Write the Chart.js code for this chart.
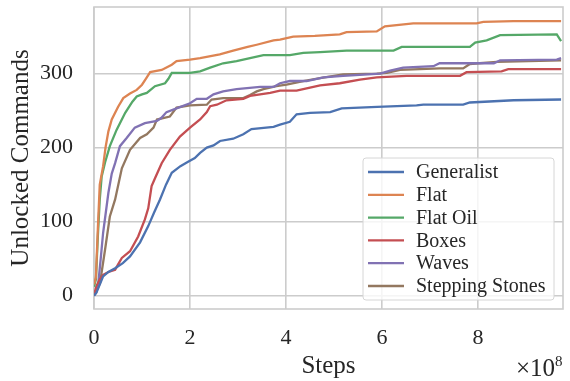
<!DOCTYPE html>
<html>
<head>
<meta charset="utf-8">
<title>Unlocked Commands</title>
<script src="https://cdn.jsdelivr.net/npm/chart.js"></script>
<style>
  html, body { margin: 0; padding: 0; background: #fff; }
  #wrap { width: 570px; height: 381px; }
</style>
</head>
<body>
<div id="wrap"><canvas id="chart" width="570" height="381"></canvas></div>
<script>
// steps are in units of 1e8
const seriesNames = ['Generalist', 'Flat', 'Flat Oil', 'Boxes', 'Waves', 'Stepping Stones'];
const seriesColors = ['#4C72B0', '#DD8452', '#55A868', '#C44E52', '#8172B3', '#937860'];

const generalistSteps = [0, 0.05, 0.12, 0.19, 0.3, 0.44, 0.6, 0.75, 0.96, 1.13, 1.25, 1.375, 1.5, 1.62, 1.8, 1.96, 2.1, 2.21, 2.35, 2.49, 2.625, 2.9, 3.11, 3.28, 3.74, 3.875, 4.08, 4.22, 4.5, 4.92, 5.16, 5.9, 6.72, 6.86, 7.69, 7.83, 8.74, 9.73];
const generalist = [0, 4, 15, 26, 32, 37, 44, 53, 72, 94, 112, 130, 150, 166, 175, 181, 186, 193, 200, 203, 209, 212, 218, 225, 228, 231, 235, 245, 247, 248, 253, 255, 257, 258, 258, 261, 264, 265];

const flatSteps = [0, 0.04, 0.08, 0.12, 0.19, 0.24, 0.3, 0.37, 0.5, 0.61, 0.75, 0.89, 1.0, 1.1, 1.17, 1.41, 1.5, 1.62, 1.72, 2.0, 2.21, 2.62, 2.9, 3.2, 3.39, 3.74, 3.875, 4.15, 4.6, 5.12, 5.26, 5.89, 6.06, 6.65, 7.97, 8.11, 8.74, 9.73];
const flat = [15, 25, 90, 150, 175, 200, 222, 238, 255, 267, 273, 278, 285, 295, 302, 305, 308, 312, 317, 319, 321, 326, 331, 336, 339, 345, 346, 350, 351, 353, 356, 357, 364, 368, 368, 370, 371, 371];

const flatOilSteps = [0, 0.04, 0.08, 0.12, 0.16, 0.23, 0.33, 0.47, 0.65, 0.8, 0.89, 1.0, 1.1, 1.27, 1.48, 1.55, 1.62, 2.0, 2.21, 2.42, 2.69, 2.97, 3.25, 3.53, 4.08, 4.36, 4.71, 5.26, 6.24, 6.41, 7.83, 7.94, 8.18, 8.46, 9.64, 9.73];
const flatOil = [12, 22, 80, 130, 161, 180, 202, 224, 247, 262, 269, 272, 274, 283, 287, 293, 301, 301, 303, 308, 314, 317, 321, 325, 325, 328, 329, 331, 331, 336, 336, 342, 345, 352, 353, 344];

const boxesSteps = [0, 0.05, 0.12, 0.19, 0.3, 0.44, 0.5, 0.58, 0.75, 0.92, 1.06, 1.13, 1.2, 1.28, 1.41, 1.58, 1.79, 2.0, 2.21, 2.35, 2.42, 2.56, 2.76, 3.11, 3.25, 3.67, 3.875, 4.22, 4.5, 4.71, 5.12, 5.54, 5.89, 6.51, 7.625, 7.76, 8.49, 8.63, 9.73];
const boxes = [0, 13, 22, 28, 32, 35, 42, 51, 60, 80, 103, 118, 148, 160, 179, 197, 215, 227, 238, 248, 256, 258, 264, 266, 270, 274, 277, 277, 281, 284, 287, 292, 295, 297, 297, 302, 303, 306, 306];

const wavesSteps = [0, 0.05, 0.09, 0.14, 0.19, 0.3, 0.37, 0.44, 0.54, 0.68, 0.85, 1.06, 1.31, 1.4, 1.51, 1.76, 2.0, 2.14, 2.35, 2.49, 2.69, 2.97, 3.46, 3.74, 3.875, 4.08, 4.43, 4.78, 5.19, 5.96, 6.17, 6.44, 7.07, 7.2, 8.33, 8.46, 9.64, 9.73];
const waves = [0, 5, 17, 50, 85, 139, 165, 179, 202, 213, 227, 233, 236, 240, 248, 254, 260, 266, 266, 272, 276, 279, 282, 282, 287, 290, 290, 295, 297, 300, 304, 308, 310, 314, 314, 318, 319, 321];

const steppingSteps = [0, 0.06, 0.125, 0.23, 0.33, 0.44, 0.58, 0.75, 0.96, 1.1, 1.24, 1.31, 1.58, 1.72, 2.0, 2.35, 2.45, 2.69, 3.11, 3.25, 3.39, 3.53, 3.8, 4.01, 4.36, 4.71, 5.19, 5.89, 6.1, 6.375, 7.2, 7.69, 7.83, 8.39, 9.73];
const stepping = [5, 8, 17, 62, 107, 130, 172, 197, 213, 218, 227, 238, 242, 254, 257, 258, 265, 267, 267, 271, 276, 279, 283, 285, 290, 294, 299, 300, 301, 305, 307, 307, 313, 316, 318];

const xTicks = [0, 2, 4, 6, 8];
const yTicks = [0, 100, 200, 300];

const stepsList = [generalistSteps, flatSteps, flatOilSteps, boxesSteps, wavesSteps, steppingSteps];
const valuesList = [generalist, flat, flatOil, boxes, waves, stepping];

const serif = '"Liberation Serif", "DejaVu Serif", serif';
const gridColor = '#cccccc';

const datasets = seriesNames.map((name, i) => ({
    label: name,
    data: stepsList[i].map((s, j) => ({ x: s, y: valuesList[i][j] })),
    borderColor: seriesColors[i],
    backgroundColor: seriesColors[i],
    borderWidth: 2.3,
    pointRadius: 0,
    tension: 0,
    fill: false
}));

// frame around the plot area (seaborn style spines)
const framePlugin = {
    id: 'frame',
    beforeDatasetsDraw(chart) {
        const { ctx, chartArea: a } = chart;
        ctx.save();
        ctx.strokeStyle = gridColor;
        ctx.lineWidth = 1.6;
        ctx.strokeRect(a.left, a.top, a.right - a.left, a.bottom - a.top);
        ctx.restore();
    }
};

// legend box in lower right, drawn inside the axes
const legendPlugin = {
    id: 'boxLegend',
    afterDatasetsDraw(chart) {
        const { ctx, chartArea: a } = chart;
        const w = 191, h = 142;
        const x0 = a.right - 9 - w, y0 = a.bottom - 9 - h;
        ctx.save();
        ctx.beginPath();
        ctx.roundRect(x0, y0, w, h, 3);
        ctx.fillStyle = 'rgba(255,255,255,0.8)';
        ctx.fill();
        ctx.strokeStyle = '#d6d6d6';
        ctx.lineWidth = 1;
        ctx.stroke();
        ctx.font = '20px ' + serif;
        ctx.textBaseline = 'middle';
        ctx.fillStyle = '#262626';
        chart.data.datasets.forEach((ds, i) => {
            const y = y0 + 14 + i * 22.8;
            ctx.strokeStyle = ds.borderColor;
            ctx.lineWidth = 2.3;
            ctx.beginPath();
            ctx.moveTo(x0 + 5, y);
            ctx.lineTo(x0 + 41, y);
            ctx.stroke();
            ctx.fillText(ds.label, x0 + 53, y + 1);
        });
        ctx.restore();
    }
};

// offset text for the x axis
const offsetPlugin = {
    id: 'offsetText',
    afterDraw(chart) {
        const { ctx, chartArea: a } = chart;
        ctx.save();
        ctx.fillStyle = '#262626';
        ctx.textBaseline = 'alphabetic';
        ctx.textAlign = 'right';
        ctx.font = '25px ' + serif;
        ctx.fillText('\u00d710', a.right - 8, 376);
        ctx.textAlign = 'left';
        ctx.font = '15px ' + serif;
        ctx.fillText('8', a.right - 8, 366);
        ctx.restore();
    }
};

new Chart(document.getElementById('chart'), {
    type: 'line',
    data: { datasets },
    options: {
        responsive: false,
        animation: false,
        layout: { padding: { top: 7, right: 7, left: 0, bottom: 0 } },
        plugins: {
            legend: { display: false },
            tooltip: { enabled: false }
        },
        scales: {
            x: {
                type: 'linear',
                min: 0,
                max: 9.77,
                afterBuildTicks: s => { s.ticks = xTicks.map(v => ({ value: v })); },
                afterFit: s => { s.height = 72; s.paddingLeft = 0; s.paddingRight = 0; },
                grid: { color: gridColor, lineWidth: 1.6, drawTicks: false },
                border: { display: false },
                ticks: {
                    padding: 16,
                    color: '#262626',
                    font: { family: serif, size: 22 },
                    callback: v => String(v)
                },
                title: {
                    display: true,
                    text: 'Steps',
                    color: '#262626',
                    font: { family: serif, size: 25 },
                    padding: { top: 0, bottom: 0 }
                }
            },
            y: {
                type: 'linear',
                min: -18,
                max: 390,
                afterBuildTicks: s => { s.ticks = yTicks.map(v => ({ value: v })); },
                afterFit: s => { s.width = 94; s.paddingTop = 0; s.paddingBottom = 0; },
                grid: { color: gridColor, lineWidth: 1.6, drawTicks: false },
                border: { display: false },
                ticks: {
                    padding: 21,
                    color: '#262626',
                    font: { family: serif, size: 22 },
                    callback: v => String(v)
                },
                title: {
                    display: true,
                    text: 'Unlocked Commands',
                    color: '#262626',
                    font: { family: serif, size: 25 },
                    padding: { top: 6, bottom: 0 }
                }
            }
        }
    },
    plugins: [framePlugin, legendPlugin, offsetPlugin]
});
</script>
</body>
</html>
